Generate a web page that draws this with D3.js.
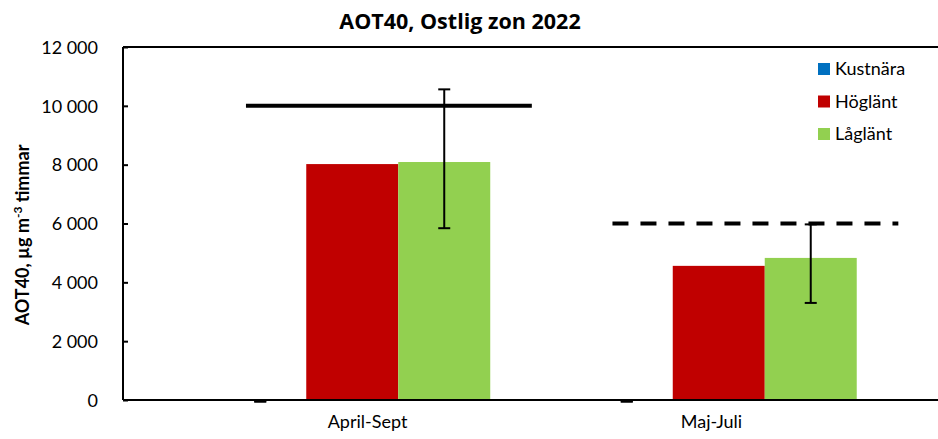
<!DOCTYPE html>
<html><head><meta charset="utf-8">
<script src="https://cdn.jsdelivr.net/npm/d3@7"></script>
<style>body{margin:0;background:#fff}svg{display:block;font-family:Lato,"Open Sans",sans-serif}</style>
</head><body><svg id="c" width="938" height="439"></svg>
<script>
const categories = ["April-Sept", "Maj-Juli"];
const seriesNames = ["Kustnära", "Höglänt", "Låglänt"];
const kustnara = [0, 0];
const hoglant = [8020, 4560];
const laglant = [8090, 4830];
const laglantErrLow = [5840, 3300];
const laglantErrHigh = [10560, 5970];
const kustnaraErrLow = [0, 0];
const kustnaraErrHigh = [0, 0];
const thresholds = [10000, 6000];
const thresholdStyles = ["solid", "dashed"];
const yTicks = [0, 2000, 4000, 6000, 8000, 10000, 12000];
const colors = ["#0070C0", "#C00000", "#92D050"];

const svg = d3.select("#c");
const mLeft = 123, mTop = 47, mBottom = 400, mRight = 938;
const y = d3.scaleLinear().domain([0, 12000]).range([mBottom, mTop]);
const x = d3.scaleBand().domain(categories).range([169, 902]).paddingInner(0).paddingOuter(0);
const xs = d3.scaleBand().domain(seriesNames).range([0, x.bandwidth()]).paddingInner(0).paddingOuter(0.492);
const xLabel = d3.scalePoint().domain(categories).range([367, 711]);
const values = [kustnara, hoglant, laglant];
const fmt = v => d3.format(",")(v).replace(/,/g, " ");

// title
svg.append("text").attr("x", 460).attr("y", 29).attr("text-anchor", "middle")
  .attr("font-family", "'Open Sans'").attr("font-weight", "bold").attr("font-size", 21.5).attr("fill", "#000")
  .text("AOT40, Ostlig zon 2022");

// bars
seriesNames.forEach((s, si) => {
  svg.append("g").selectAll("rect").data(categories).join("rect")
    .attr("x", c => x(c) + xs(s))
    .attr("width", xs.bandwidth())
    .attr("y", (c, i) => y(values[si][i]))
    .attr("height", (c, i) => y(0) - y(values[si][i]))
    .attr("fill", colors[si]);
});

// threshold lines
categories.forEach((c, i) => {
  svg.append("line")
    .attr("x1", x(c) + x.bandwidth() * 0.21).attr("x2", x(c) + x.bandwidth() * 0.99)
    .attr("y1", y(thresholds[i])).attr("y2", y(thresholds[i]))
    .attr("stroke", "#000").attr("stroke-width", 4)
    .attr("stroke-dasharray", thresholdStyles[i] === "dashed" ? "16,12" : null);
});

// frame
svg.append("line").attr("x1", mLeft).attr("x2", mRight).attr("y1", mTop).attr("y2", mTop).attr("stroke", "#000").attr("stroke-width", 2);

// y axis
const ya = svg.append("g").attr("transform", `translate(${mLeft},0)`)
  .call(d3.axisLeft(y).tickValues(yTicks).tickSize(-5).tickPadding(25).tickFormat(fmt));
ya.select(".domain").attr("stroke-width", 2).attr("d", `M0,${mTop}V${mBottom}`);
ya.selectAll(".tick line").attr("stroke-width", 2);
ya.selectAll("text").attr("font-size", 18).attr("font-family", "Lato").attr("fill", "#000").attr("dy", "0.35em");

// x axis
const xa = svg.append("g").attr("transform", `translate(0,${mBottom})`)
  .call(d3.axisBottom(xLabel).tickSize(0).tickPadding(15));
xa.select(".domain").attr("stroke-width", 2).attr("d", `M${mLeft},0H${mRight}`);
xa.selectAll("text").attr("font-size", 18).attr("font-weight", "normal").attr("font-family", "Lato").attr("fill", "#000").attr("dy", "0.71em");

// error bars
function errBars(sname, lo, hi) {
  const g = svg.append("g").attr("stroke", "#000").attr("stroke-width", 2);
  categories.forEach((c, i) => {
    const cx = x(c) + xs(sname) + xs.bandwidth() / 2;
    g.append("line").attr("x1", cx).attr("x2", cx).attr("y1", y(lo[i])).attr("y2", y(hi[i]));
    [lo[i], hi[i]].forEach(v => g.append("line").attr("x1", cx - 6).attr("x2", cx + 6).attr("y1", y(v) + (v === 0 ? 1.5 : 0)).attr("y2", y(v) + (v === 0 ? 1.5 : 0)));
  });
}
errBars("Låglänt", laglantErrLow, laglantErrHigh);
errBars("Kustnära", kustnaraErrLow, kustnaraErrHigh);

// y title
const yt = svg.append("text").attr("transform", "translate(29,235) rotate(-90)")
  .attr("text-anchor", "middle").attr("font-weight", "bold").attr("font-size", 18).attr("fill", "#000");
yt.append("tspan").text("AOT40, µg m");
yt.append("tspan").attr("font-size", 12).attr("dy", -7).text("-3");
yt.append("tspan").attr("dy", 7).text(" timmar");

// legend
const lg = svg.append("g").attr("transform", "translate(818,63)");
seriesNames.forEach((s, i) => {
  const r = lg.append("g").attr("transform", `translate(0,${i * 32.5})`);
  r.append("rect").attr("width", 12).attr("height", 12).attr("fill", colors[i]);
  r.append("text").attr("x", 17).attr("y", 6).attr("dy", "0.35em").attr("font-size", 18).attr("fill", "#000").text(s);
});
</script></body></html>
